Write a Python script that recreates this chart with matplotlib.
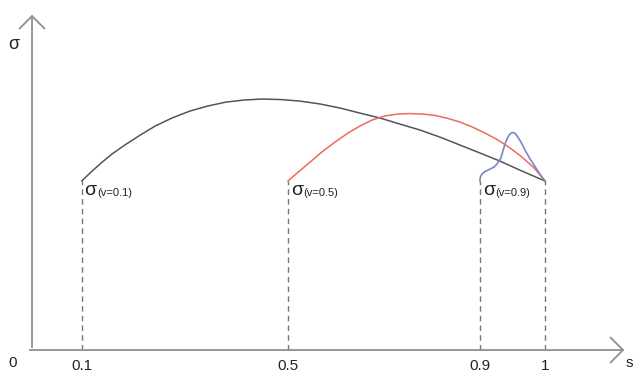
import matplotlib
matplotlib.use("Agg")
import matplotlib.pyplot as plt

plt.rcParams['font.family'] = ['Liberation Sans', 'DejaVu Sans']

# tick positions (schematic, not to scale) and their labels
tick_pos = [0.097, 0.499, 0.873, 1.0]
tick_lab = ['0.1', '0.5', '0.9', '1']

# sigma curves (x along s, y relative to start level 1)
bx = [0.097, 0.115, 0.135, 0.156, 0.181, 0.211, 0.240, 0.273, 0.308, 0.343, 0.378, 0.413, 0.448, 0.485,
      0.522, 0.561, 0.600, 0.639, 0.678, 0.717, 0.756, 0.795, 0.834, 0.873, 0.912, 0.955, 1.0]
by = [1.0, 1.053, 1.107, 1.160, 1.213, 1.272, 1.325, 1.373, 1.414, 1.444, 1.467, 1.479, 1.485, 1.482,
      1.473, 1.456, 1.432, 1.402, 1.373, 1.337, 1.302, 1.260, 1.213, 1.166, 1.118, 1.059, 1.0]

rx = [0.499, 0.519, 0.542, 0.565, 0.591, 0.616, 0.639, 0.663, 0.688, 0.713, 0.737, 0.762, 0.786, 0.811,
      0.834, 0.858, 0.883, 0.908, 0.932, 0.955, 0.979, 1.0]
ry = [1.0, 1.053, 1.112, 1.172, 1.231, 1.284, 1.325, 1.361, 1.385, 1.396, 1.399, 1.396, 1.388, 1.370,
      1.349, 1.320, 1.284, 1.243, 1.195, 1.142, 1.077, 1.0]

ux = [0.873, 0.874, 0.877, 0.883, 0.891, 0.901, 0.908, 0.914, 0.918, 0.922, 0.926, 0.930, 0.934, 0.938,
      0.942, 0.947, 0.953, 0.961, 0.971, 0.981, 0.990, 1.0]
uy = [1.0, 1.024, 1.041, 1.056, 1.068, 1.083, 1.107, 1.136, 1.178, 1.219, 1.249, 1.272, 1.284, 1.287,
      1.281, 1.260, 1.231, 1.183, 1.130, 1.083, 1.041, 1.0]

subs = ['(v=0.1)', '(v=0.5)', '(v=0.9)']

fig = plt.figure(figsize=(6.33, 3.72), dpi=100)
ax = fig.add_axes([0, 0, 1, 1])
ax.set_xlim(-0.0624, 1.1715)
ax.set_ylim(-0.130, 2.071)
ax.axis('off')

axc = '#8f8f8f'
# axes with open arrow heads
ax.annotate('', xy=(1.16, 0), xytext=(-0.01, 0),
            arrowprops=dict(arrowstyle='->,head_length=0.9,head_width=0.9', color=axc, lw=1.3, mutation_scale=10))
ax.annotate('', xy=(0, 2.0), xytext=(0, 0),
            arrowprops=dict(arrowstyle='->,head_length=0.9,head_width=0.9', color=axc, lw=1.3, mutation_scale=10))

# dashed verticals
for p in tick_pos:
    ax.plot([p, p], [0, 1.0], color='#777777', lw=1.0, ls=(0, (4, 3)))

ax.plot(bx, by, color='#555555', lw=1.1)
ax.plot(rx, ry, color='#ee6a5a', lw=1.1)
ax.plot(ux, uy, color='#7b86c2', lw=1.2)

for p, s in zip(tick_pos[:3], subs):
    ax.annotate('σ', xy=(p, 1.0), xytext=(2, -1), textcoords='offset points',
                fontsize=14, ha='left', va='top', color='#222222')
    ax.annotate(s, xy=(p, 1.0), xytext=(11, -5), textcoords='offset points',
                fontsize=8, ha='left', va='top', color='#222222')

for p, lab in zip(tick_pos, tick_lab):
    ax.text(p, -0.095, lab, fontsize=11, ha='center', va='center', color='#222222')
ax.text(-0.037, -0.075, '0', fontsize=11, ha='center', va='center', color='#222222')
ax.text(-0.035, 1.81, 'σ', fontsize=13, ha='center', va='center', color='#222222')
ax.text(1.165, -0.075, 's', fontsize=11, ha='center', va='center', color='#222222')

fig.savefig('out.png', dpi=100)
